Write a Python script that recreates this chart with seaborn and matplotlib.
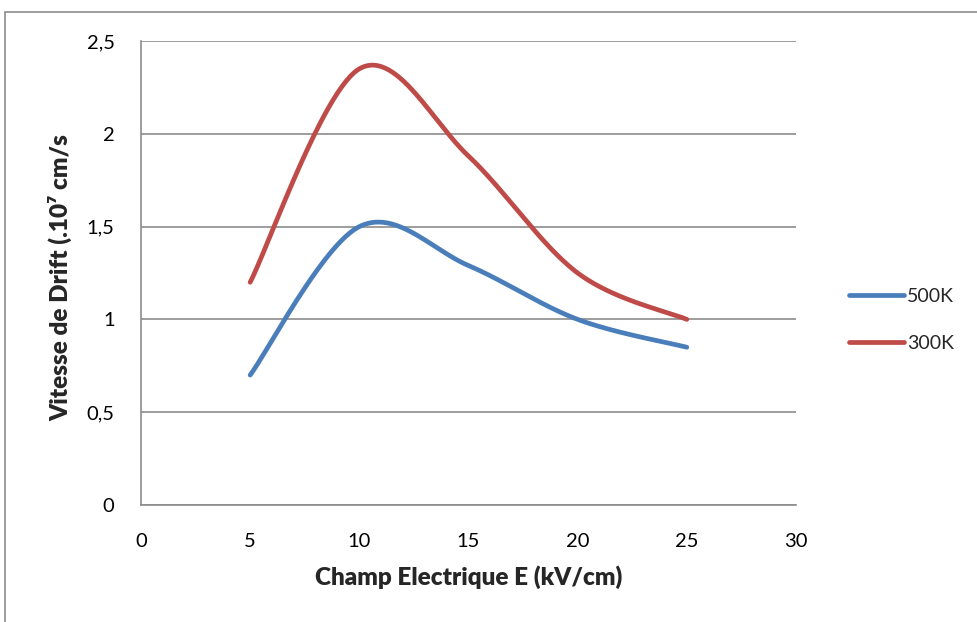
import numpy as np
import pandas as pd
import matplotlib
matplotlib.use("Agg")
import matplotlib.pyplot as plt
from matplotlib.patches import Rectangle
from matplotlib.lines import Line2D
import seaborn as sns

# Measured drift velocity vs electric field
field_kv_cm = [5, 10, 15, 20, 25]
v_500k = [0.70, 1.50, 1.29, 1.00, 0.85]
v_300k = [1.20, 2.35, 1.88, 1.25, 1.00]
series_names = ["500K", "300K"]
series_colors = ["#4A7EBB", "#BE4B48"]
x_ticks = [0, 5, 10, 15, 20, 25, 30]
y_ticks = [0, 0.5, 1, 1.5, 2, 2.5]
y_tick_labels = ["0", "0,5", "1", "1,5", "2", "2,5"]


def smooth_curve(xs, ys, n=60):
    """Spreadsheet-style smoothed line: cubic Bezier segments through the points."""
    pts = np.column_stack([xs, ys]).astype(float)
    out = []
    for i in range(len(pts) - 1):
        p0 = pts[i - 1] if i > 0 else pts[i]
        p1, p2 = pts[i], pts[i + 1]
        p3 = pts[i + 2] if i + 2 < len(pts) else pts[i + 1]
        c1 = p1 + (p2 - p0) / 6.0
        c2 = p2 - (p3 - p1) / 6.0
        t = np.linspace(0, 1, n)[:, None]
        seg = ((1 - t) ** 3) * p1 + 3 * t * (1 - t) ** 2 * c1 + 3 * t ** 2 * (1 - t) * c2 + t ** 3 * p2
        out.append(seg if i == 0 else seg[1:])
    arr = np.vstack(out)
    return arr[:, 0], arr[:, 1]


frames = []
for name, vals in zip(series_names, [v_500k, v_300k]):
    sx, sy = smooth_curve(field_kv_cm, vals)
    frames.append(pd.DataFrame({"E": sx, "v": sy, "serie": name}))
df = pd.concat(frames, ignore_index=True)

sns.set_style("white")
plt.rcParams["font.family"] = ["Lato", "DejaVu Sans"]

W, H = 977, 622
fig = plt.figure(figsize=(W / 100, H / 100), dpi=100)
ax = fig.add_axes([141 / W, 1 - 505 / H, (796 - 141) / W, (505 - 41) / H])

sns.lineplot(data=df, x="E", y="v", hue="serie",
             palette=dict(zip(series_names, series_colors)), sort=False,
             estimator=None, linewidth=3.4, ax=ax, legend=False)
for line in ax.lines:
    line.set_solid_capstyle("round")

ax.set_xlim(0, 30)
ax.set_ylim(0, 2.5)
ax.set_xticks(x_ticks)
ax.set_xticklabels([str(t) for t in x_ticks])
ax.set_yticks(y_ticks)
ax.set_yticklabels(y_tick_labels)
ax.tick_params(axis="both", length=0, labelsize=14.5, colors="black")
ax.tick_params(axis="x", pad=20)
ax.tick_params(axis="y", pad=19)
ax.yaxis.grid(True, color="#8C8C8C", linewidth=1.2)
ax.xaxis.grid(False)
ax.set_axisbelow(True)
for side in ["top", "right"]:
    ax.spines[side].set_visible(False)
for side in ["left", "bottom"]:
    ax.spines[side].set_color("#8C8C8C")
    ax.spines[side].set_linewidth(1.2)

ax.set_xlabel("Champ Electrique E (kV/cm)", fontsize=17.5, fontweight="heavy", labelpad=11)
ax.set_ylabel("Vitesse de Drift (.10⁷ cm/s", fontsize=17.5, fontweight="heavy")
ax.yaxis.set_label_coords((72 - 141) / 655, 0.49)

# Legend entries on the right of the plot area
handles = [Line2D([0], [0], color=c, linewidth=3.4, solid_capstyle="round") for c in series_colors]
fig.legend(handles, series_names, loc="center left", bbox_to_anchor=(841 / W, 1 - 320 / H),
           frameon=False, fontsize=14, handlelength=2.85, handletextpad=0.15,
           labelspacing=1.55, borderaxespad=0)

# Chart frame
fig.patches.append(Rectangle((4.5 / W, -0.1), 1.2, 1 - 11.5 / H + 0.1, transform=fig.transFigure,
                             fill=False, edgecolor="#8C8C8C", linewidth=1.2))

fig.savefig("out.png", dpi=100)
